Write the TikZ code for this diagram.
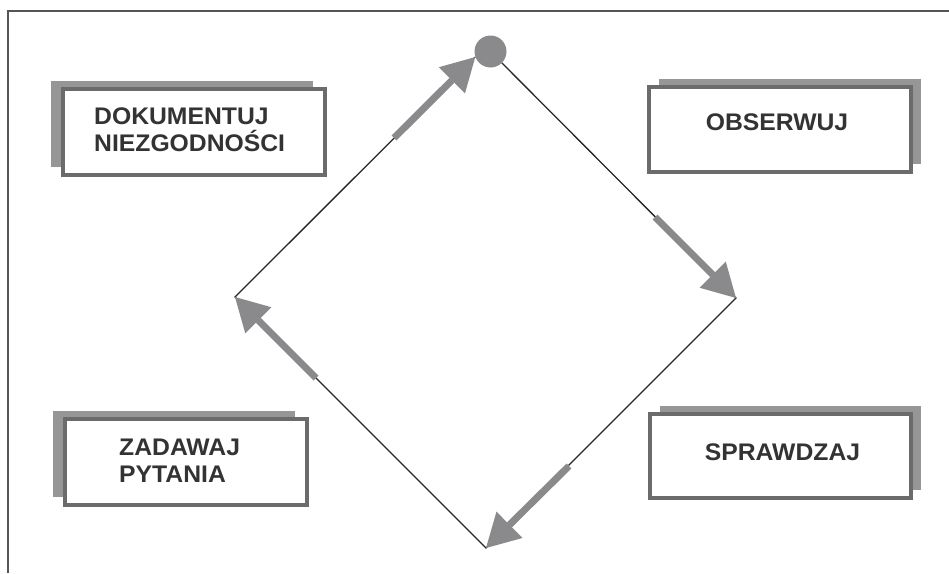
\documentclass[tikz,border=0pt]{standalone}
\usepackage{fontspec}
\setmainfont{Liberation Sans}[FakeStretch=1.03]
\usetikzlibrary{arrows.meta,shadows}
\definecolor{framegray}{HTML}{555555}
\definecolor{boxedge}{HTML}{6B6B6B}
\definecolor{boxshade}{HTML}{969696}
\definecolor{flowgray}{HTML}{8A8A8C}
\definecolor{linegray}{HTML}{262626}
\definecolor{textgray}{HTML}{333333}

\begin{document}
\begin{tikzpicture}[x=1pt,y=-1pt,
  card/.style={draw=boxedge, line width=4pt, fill=white, rectangle, inner sep=0pt},
  shadeleft/.style={drop shadow={shadow xshift=-12pt, shadow yshift=8pt, fill=boxshade, opacity=1}},
  shaderight/.style={drop shadow={shadow xshift=10pt, shadow yshift=8pt, fill=boxshade, opacity=1}},
  caption/.style={text=textgray, font=\fontsize{24}{26.5}\selectfont\bfseries, align=left, inner sep=0pt},
  cycle/.style={draw=linegray, line width=1.3pt},
  flow/.style={draw=flowgray, line width=7pt, -{Triangle[length=33pt,width=37pt,line width=0pt]}},
  hub/.style={circle, fill=flowgray, minimum size=32pt, inner sep=0pt}]

\useasboundingbox (0,0) rectangle (949,573);

% open frame: top and left rules
\draw[framegray, line width=2pt] (7.5,573) -- (7.5,10.5) -- (949,10.5);

% the four action cards
\node[card, shadeleft,  minimum width=262pt, minimum height=86pt] (b1) at (193.7,132.3) {};
\node[card, shaderight, minimum width=262pt, minimum height=85pt] (b2) at (780,129.5) {};
\node[card, shadeleft,  minimum width=242pt, minimum height=86pt] (b3) at (186,462) {};
\node[card, shaderight, minimum width=261pt, minimum height=84pt] (b4) at (780.5,456) {};

\node[caption, anchor=north west] (t1) at (94,108) {DOKUMENTUJ\\NIEZGODNOŚCI};
\node[caption] (t2) at (777,122.5) {OBSERWUJ};
\node[caption, anchor=north west] (t3) at (119,439) {ZADAWAJ\\PYTANIA};
\node[caption] (t4) at (782.5,452) {SPRAWDZAJ};

% the cycle: start point and corners
\node[hub] (C) at (490.5,51.5) {};
\coordinate (R) at (736,298);
\coordinate (B) at (486,548);
\coordinate (L) at (235,297);

\draw[cycle] (C) -- (R) -- (B) -- (L) -- (C.200);

% direction arrows along each side
\coordinate (f1) at (394,138);
\coordinate (f2) at (655,217);
\coordinate (f3) at (569,466);
\coordinate (f4) at (316,378);

\draw[flow] (f1) -- (C.200);
\draw[flow] (f2) -- (R);
\draw[flow] (f3) -- (B);
\draw[flow] (f4) -- (L);

\end{tikzpicture}
\end{document}
